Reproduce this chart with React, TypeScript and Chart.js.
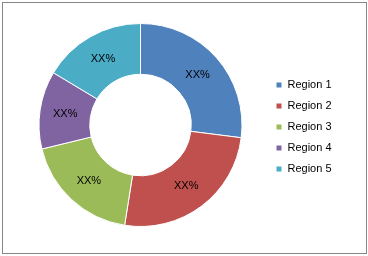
import React, { useEffect, useRef } from "react";
import { Chart, registerables } from "chart.js";

Chart.register(...registerables);

const categories = ["Region 1", "Region 2", "Region 3", "Region 4", "Region 5"];
const values = [27, 25.5, 18.7, 12.4, 16.4];
const sliceLabels = ["XX%", "XX%", "XX%", "XX%", "XX%"];
const colors = ["#4F81BD", "#C0504D", "#9BBB59", "#8064A2", "#4BACC6"];

const FONT = "'Liberation Sans', Arial, sans-serif";

const sliceLabelPlugin = {
  id: "sliceLabels",
  afterDatasetsDraw(chart: any) {
    const ctx = chart.ctx;
    const meta = chart.getDatasetMeta(0);
    ctx.save();
    ctx.font = `11px ${FONT}`;
    ctx.fillStyle = "#000000";
    ctx.textAlign = "center";
    ctx.textBaseline = "middle";
    meta.data.forEach((arc: any, i: number) => {
      const p = arc.tooltipPosition();
      ctx.fillText(sliceLabels[i], p.x, p.y);
    });
    ctx.restore();
  },
};

export default function App() {
  const ref = useRef<HTMLCanvasElement>(null);
  useEffect(() => {
    if (!ref.current) return;
    const chart = new Chart(ref.current, {
      type: "doughnut",
      data: {
        labels: categories,
        datasets: [
          {
            data: values,
            backgroundColor: colors,
            borderColor: "#ffffff",
            borderWidth: 1,
            radius: 101.5,
            cutout: "50%",
          } as any,
        ],
      },
      options: {
        animation: false,
        responsive: false,
        maintainAspectRatio: false,
        layout: { padding: { top: 20, bottom: 26, left: 15, right: 32 } },
        plugins: {
          tooltip: { enabled: false },
          legend: {
            display: true,
            position: "right",
            align: "center",
            maxWidth: 70,
            title: { display: true, text: "", font: { size: 2, lineHeight: 1 }, padding: { top: 1, bottom: 1 } },
            labels: {
              boxWidth: 6,
              boxHeight: 6,
              padding: 10,
              color: "#000000",
              font: { size: 11, family: FONT },
            },
          },
        },
      },
      plugins: [sliceLabelPlugin],
    });
    return () => chart.destroy();
  }, []);
  return (
    <div style={{ position: "fixed", left: 0, top: 0, width: 368, height: 256, background: "#fff" }}>
      <div
        style={{
          position: "absolute",
          left: 2,
          top: 2,
          width: 363,
          height: 250,
          border: "1px solid #868686",
        }}
      />
      <canvas ref={ref} width={368} height={256} style={{ position: "absolute", left: 0, top: 0, width: 368, height: 256 }} />
    </div>
  );
}
